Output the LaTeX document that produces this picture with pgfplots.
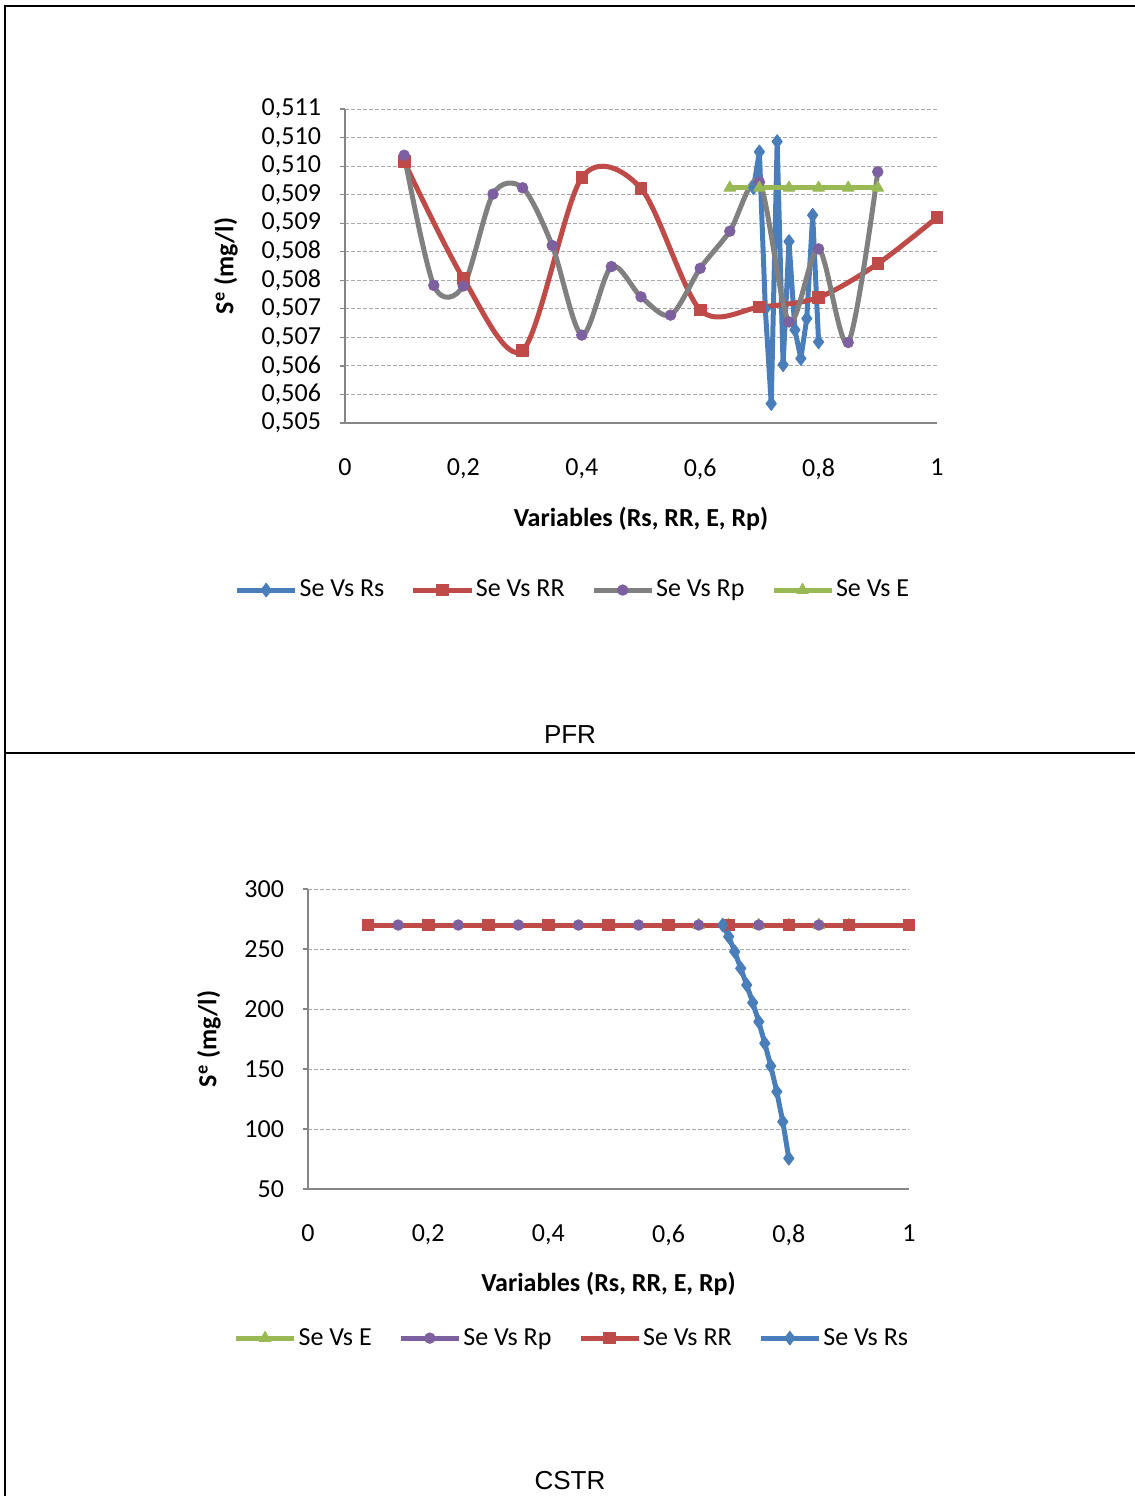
\documentclass[border=0pt]{standalone}
\usepackage{fontspec}
\setmainfont{Carlito}
\newfontfamily\arialf{Liberation Sans}
\usepackage{pgfplots}
\pgfplotsset{compat=1.18}

\definecolor{xblue}{HTML}{4A7EBB}
\definecolor{xred}{HTML}{BE4B48}
\definecolor{xgreen}{HTML}{98B954}
\definecolor{xpurple}{HTML}{7D60A0}
\definecolor{xgray}{HTML}{808080}
\definecolor{xaxis}{HTML}{868686}

\newcommand{\fs}{\fontsize{13}{15}\selectfont}

\pgfplotsset{
  xlchart/.style={
    scale only axis, clip=false,
    axis lines*=left,
    axis line style={draw=xaxis, line width=0.6pt},
    ymajorgrids,
    grid style={draw=gray!70, line width=0.5pt, dash pattern=on 2pt off 1pt},
    xtick style={draw=none},
    ytick style={draw=xaxis, line width=0.6pt},
    tick align=outside, major tick length=2.5pt,
    tick label style={font=\fs},
    xticklabel style={yshift=-12pt},
    yticklabel style={xshift=-6pt},
    label style={font=\fs\bfseries},
    legend columns=4,
    legend style={draw=none, fill=none, font=\fs, anchor=center,
      nodes={inner xsep=1pt},
      /tikz/every even column/.append style={column sep=12.3pt}},
    legend image code/.code={\draw[mark repeat=2,mark phase=2,#1]
      plot coordinates {(0pt,0pt) (14.5pt,0pt) (29pt,0pt)};},
    every axis plot/.append style={line width=2.5pt, line join=round},
  },
  srs/.style={draw=xblue, mark=diamond*, mark size=3.4pt, mark options={fill=xblue, draw=xblue, line width=0.5pt}},
  srr/.style={draw=xred, mark=square*, mark size=2.9pt, mark options={fill=xred, draw=xred, line width=0.5pt}},
  se/.style={draw=xgreen, mark=triangle*, mark size=3.3pt, mark options={fill=xgreen, draw=xgreen, line width=0.5pt}},
}

\begin{document}
\begin{tikzpicture}
\path[use as bounding box] (0pt,0pt) rectangle (567.5pt,-748pt);
\draw[line width=1pt] (2.5pt,-748pt) -- (2.5pt,-3.2pt) -- (567.5pt,-3.2pt);
\draw[line width=1pt] (2.5pt,-376.5pt) -- (567.5pt,-376.5pt);

% PFR
\begin{axis}[xlchart,
  at={(172.5pt,-211.5pt)}, anchor=south west,
  width=296pt, height=157pt,
  xmin=0, xmax=1, ymin=0.505, ymax=0.5105,
  xtick={0,0.2,0.4,0.6,0.8,1},
  xticklabels={0,{0,2},{0,4},{0,6},{0,8},1},
  ytick={0.505,0.5055,0.506,0.5065,0.507,0.5075,0.508,0.5085,0.509,0.5095,0.510,0.5105},
  yticklabels={{0,505},{0,506},{0,506},{0,507},{0,507},{0,508},{0,508},{0,509},{0,509},{0,510},{0,510},{0,511}},
  xlabel={Variables (Rs, RR, E, Rp)},
  ylabel={S\textsuperscript{e} (mg/l)},
  xlabel style={at={(axis description cs:0.5,-0.306)}, anchor=center},
  ylabel style={at={(axis description cs:-0.201,0.5)}, anchor=center},
  legend style={at={(axis description cs:0.385,-0.532)}},
]
\addplot[srs] coordinates {
  (0.69,0.50912) (0.70,0.50975) (0.71,0.50700) (0.72,0.50534) (0.73,0.50993)
  (0.74,0.50602) (0.75,0.50818) (0.76,0.50663) (0.77,0.50613) (0.78,0.50683)
  (0.79,0.50864) (0.80,0.50642)
};
\addlegendentry{Se Vs Rs}
\addplot[srr, smooth] coordinates {
  (0.1,0.50958) (0.2,0.50753) (0.3,0.50627) (0.4,0.50930) (0.5,0.50911)
  (0.6,0.50698) (0.7,0.50703) (0.8,0.50720) (0.9,0.50779) (1.0,0.50860)
};
\addlegendentry{Se Vs RR}
\addplot[draw=xgray, smooth, mark=*, mark size=2.6pt, mark options={fill=xpurple, draw=xpurple, line width=0.5pt}] coordinates {
  (0.10,0.50969) (0.15,0.50741) (0.20,0.50740) (0.25,0.50901) (0.30,0.50912)
  (0.35,0.50811) (0.40,0.50654) (0.45,0.50774) (0.50,0.50721) (0.55,0.50689)
  (0.60,0.50771) (0.65,0.50836) (0.70,0.50922) (0.75,0.50677) (0.80,0.50805)
  (0.85,0.50641) (0.90,0.50940)
};
\addlegendentry{Se Vs Rp}
\addplot[se] coordinates {
  (0.65,0.50912) (0.70,0.50912) (0.75,0.50912) (0.80,0.50912) (0.85,0.50912) (0.90,0.50912)
};
\addlegendentry{Se Vs E}
\end{axis}
\node[font=\arialf\fontsize{13}{15}\selectfont] at (285pt,-367.5pt) {PFR};

% CSTR
\begin{axis}[xlchart,
  at={(154pt,-594.5pt)}, anchor=south west,
  width=300.5pt, height=150pt,
  xmin=0, xmax=1, ymin=50, ymax=300,
  xtick={0,0.2,0.4,0.6,0.8,1},
  xticklabels={0,{0,2},{0,4},{0,6},{0,8},1},
  ytick={50,100,150,200,250,300},
  yticklabels={50,100,150,200,250,300},
  xlabel={Variables (Rs, RR, E, Rp)},
  ylabel={S\textsuperscript{e} (mg/l)},
  xlabel style={at={(axis description cs:0.5,-0.317)}, anchor=center},
  ylabel style={at={(axis description cs:-0.165,0.5)}, anchor=center},
  legend style={at={(axis description cs:0.439,-0.497)}},
]
\addplot[se] coordinates {
  (0.65,270) (0.70,270) (0.75,270) (0.80,270) (0.85,270) (0.90,270)
};
\addlegendentry{Se Vs E}
\addplot[draw=xpurple, mark=*, mark size=2.6pt, mark options={fill=xpurple, draw=xpurple, line width=0.5pt}] coordinates {
  (0.10,270) (0.15,270) (0.20,270) (0.25,270) (0.30,270) (0.35,270) (0.40,270)
  (0.45,270) (0.50,270) (0.55,270) (0.60,270) (0.65,270) (0.70,270) (0.75,270)
  (0.80,270) (0.85,270) (0.90,270)
};
\addlegendentry{Se Vs Rp}
\addplot[srr] coordinates {
  (0.1,270) (0.2,270) (0.3,270) (0.4,270) (0.5,270)
  (0.6,270) (0.7,270) (0.8,270) (0.9,270) (1.0,270)
};
\addlegendentry{Se Vs RR}
\addplot[srs] coordinates {
  (0.69,270) (0.70,260.3) (0.71,247.8) (0.72,233.9) (0.73,220.0) (0.74,205.3)
  (0.75,189.4) (0.76,171.4) (0.77,152.5) (0.78,131.1) (0.79,106.1) (0.80,75.6)
};
\addlegendentry{Se Vs Rs}
\end{axis}
\node[font=\arialf\fontsize{13}{15}\selectfont] at (285pt,-740.5pt) {CSTR};
\end{tikzpicture}
\end{document}
